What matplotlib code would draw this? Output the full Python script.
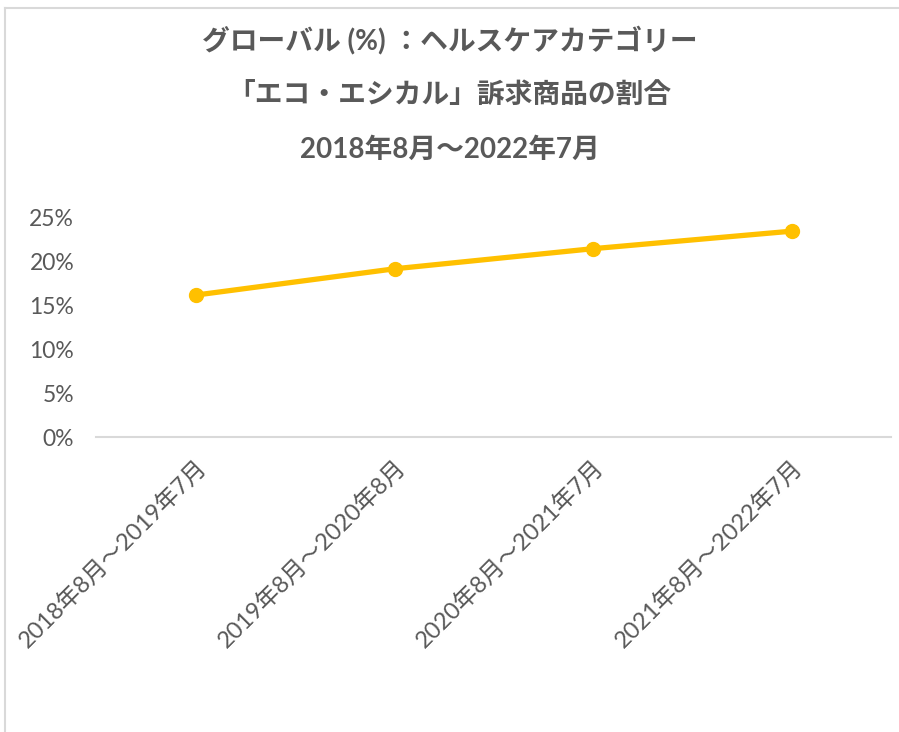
import matplotlib.pyplot as plt
from matplotlib.lines import Line2D
from matplotlib.ticker import PercentFormatter

plt.rcParams['font.family'] = ['Lato', 'Noto Sans CJK JP', 'DejaVu Sans']

periods = ["2018年8月～2019年7月", "2019年8月～2020年8月",
           "2020年8月～2021年7月", "2021年8月～2022年7月"]
share = [16.2, 19.2, 21.5, 23.5]

title_lines = ["グローバル (%) ：ヘルスケアカテゴリー",
               "「エコ・エシカル」訴求商品の割合",
               "2018年8月～2022年7月"]

grey = "#595959"

fig = plt.figure(figsize=(8.99, 7.32), dpi=100)
ax = fig.add_axes([0.1073, 0.403, 0.8843, 0.2992])

x = range(len(periods))
ax.plot(x, share, color="#FFC000", linewidth=3.8, marker="o",
        markersize=10, solid_capstyle="round")

ax.set_xlim(-0.5, len(periods) - 0.5)
ax.set_ylim(0, 25)
ax.set_yticks([0, 5, 10, 15, 20, 25])
ax.yaxis.set_major_formatter(PercentFormatter(decimals=0))
ax.set_xticks(list(x))
ax.set_xticklabels(periods, rotation=45, ha="right", va="top",
                   rotation_mode="anchor")
ax.tick_params(axis="both", length=0, labelcolor=grey)
ax.tick_params(axis="x", pad=14, labelsize=17)
ax.tick_params(axis="y", pad=16, labelsize=16.5)
for lbl in ax.get_yticklabels():
    lbl.set_fontfamily(["Lato", "DejaVu Sans"])

for s in ["top", "right", "left"]:
    ax.spines[s].set_visible(False)
ax.spines["bottom"].set_color("#d9d9d9")
ax.spines["bottom"].set_linewidth(1.5)

# title, three centred lines
for i, t in enumerate(title_lines):
    fig.text(0.5, 1 - (40 + i * 55) / 732, t, ha="center", va="center",
             fontsize=20, fontweight="bold", color=grey)

# chart frame (left and top edges visible in the crop)
fig.add_artist(Line2D([5 / 899, 5 / 899], [0, 1 - 8 / 732],
                      transform=fig.transFigure, color="#d9d9d9", lw=1.5))
fig.add_artist(Line2D([5 / 899, 1], [1 - 8 / 732, 1 - 8 / 732],
                      transform=fig.transFigure, color="#d9d9d9", lw=1.5))

fig.savefig("out.png", dpi=100)
